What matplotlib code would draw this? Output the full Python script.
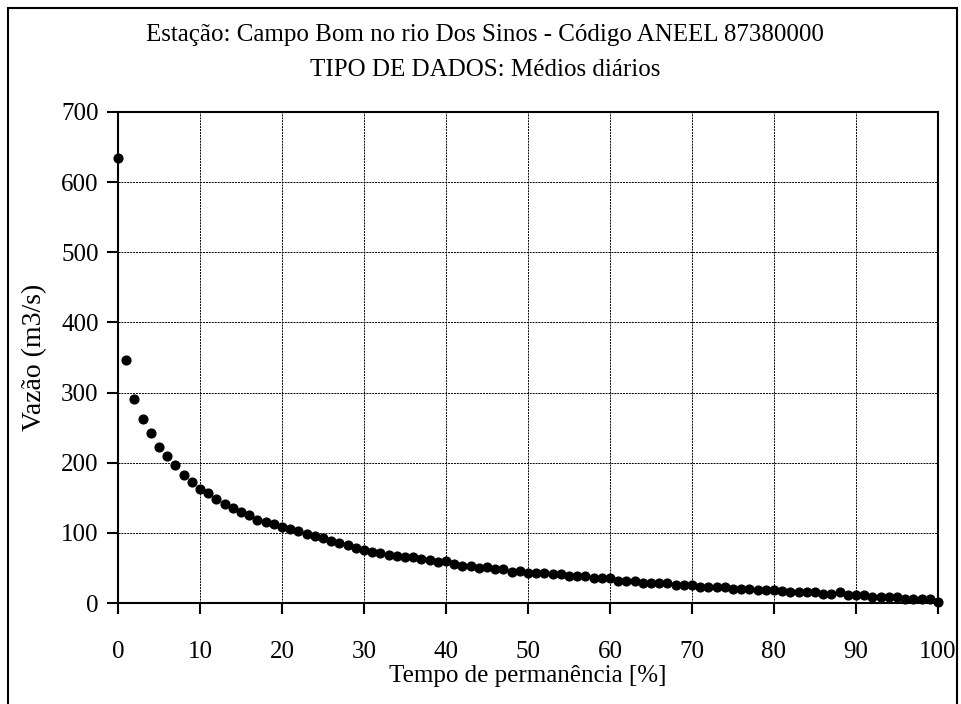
import numpy as np
import matplotlib
matplotlib.use('Agg')
import matplotlib.pyplot as plt
from matplotlib.patches import Rectangle

plt.rcParams['font.family'] = ['Liberation Serif', 'DejaVu Serif']

# Curva de permanencia - vazoes (m3/s)
permanencia = list(range(0, 101))
vazao = [635, 347, 291, 263, 242, 223, 209, 197, 183, 172,
         162, 157, 148, 141, 135, 130, 125, 119, 115, 112,
         108, 106, 103, 98, 96, 93, 88, 85, 82, 79,
         76, 73, 71, 68, 67, 66, 65, 63, 62, 59,
         60, 56, 53, 53, 50, 51, 49, 49, 44, 45,
         43, 43, 43, 41, 41, 38, 38, 38, 35, 36,
         35, 32, 32, 32, 29, 29, 29, 29, 26, 26,
         26, 23, 23, 23, 23, 20, 20, 20, 18, 18,
         18, 17, 16, 16, 16, 16, 13, 13, 15, 11,
         11, 11, 8, 8, 8, 8, 5, 5, 5, 5,
         2]

titulo1 = 'Estação: Campo Bom no rio Dos Sinos - Código ANEEL 87380000'
titulo2 = 'TIPO DE DADOS: Médios diários'

fig = plt.figure(figsize=(9.62, 7.04), dpi=100)
ax = fig.add_axes([118 / 962, 1 - 603 / 704, 820 / 962, 491 / 704])

ax.plot(permanencia, vazao, 'o', color='k', markersize=6.3, clip_on=False, zorder=3)

ax.set_xlim(0, 100)
ax.set_ylim(0, 700)
ax.set_xticks(np.arange(0, 101, 10))
ax.set_yticks(np.arange(0, 701, 100))
ax.grid(True, color='k', linestyle=(0, (2, 1)), linewidth=0.7)
ax.tick_params(axis='both', direction='out', length=8, width=1.5, labelsize=18, colors='k')
ax.tick_params(axis='x', pad=19)
ax.tick_params(axis='y', pad=6)
for s in ax.spines.values():
    s.set_linewidth(1.5)

ax.set_xlabel('Tempo de permanência [%]', fontsize=18, labelpad=2)
ax.set_ylabel('Vazão (m3/s)', fontsize=20, labelpad=10)

fig.text(0.504, 1 - 35 / 704, titulo1, ha='center', va='center', fontsize=18)
fig.text(0.504, 1 - 70 / 704, titulo2, ha='center', va='center', fontsize=18)

# moldura em volta do grafico
fig.patches.append(Rectangle((8 / 962, -0.02), 949 / 962, 1 - 8 / 704 + 0.02,
                             transform=fig.transFigure, fill=False,
                             edgecolor='k', linewidth=1.5))

plt.savefig('out.png', dpi=100)
